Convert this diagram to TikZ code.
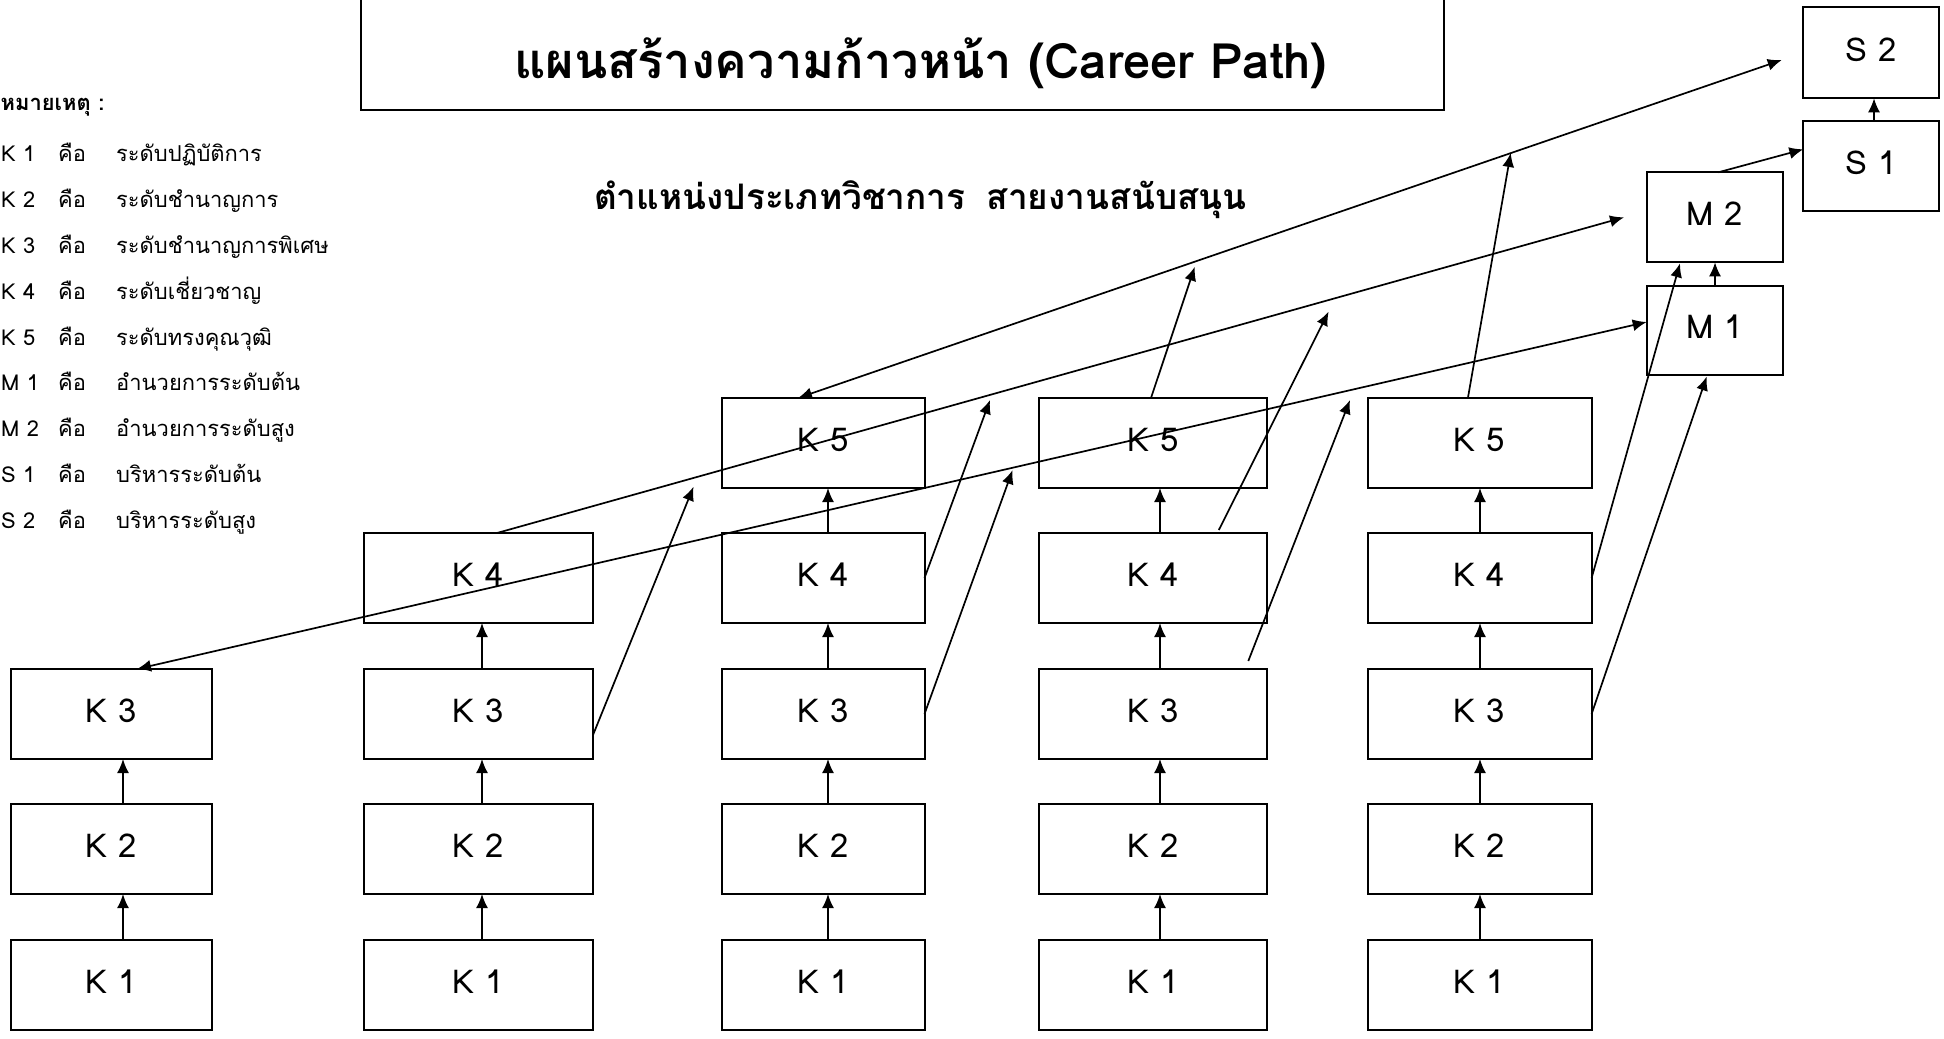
\documentclass[tikz,border=0pt]{standalone}
\usepackage{fontspec}
\setmainfont[Script=Thai]{Loma}
\newfontfamily\thai[Script=Thai]{Loma}
\usetikzlibrary{arrows.meta}
\begin{document}
\begin{tikzpicture}[x=1bp,y=-1bp,
  box/.style={draw,line width=2bp,inner sep=0pt,outer sep=0pt,minimum height=90bp,text height=26bp,text depth=9bp,font=\fontsize{33}{38}\selectfont},
  arr/.style={line width=1.7bp,-{Latex[length=14bp,width=12bp]}},
  darr/.style={line width=1.7bp,{Latex[length=14bp,width=12bp]}-{Latex[length=14bp,width=12bp]}},
  leg/.style={anchor=base west,inner sep=0pt,font=\fontsize{22}{27}\selectfont}]
\useasboundingbox (0,0) rectangle (1944,1038);
\clip (0,0) rectangle (1944,1038);
\fill[white] (0,0) rectangle (1944,1038);

% title
\node[draw,line width=2bp,inner sep=0pt,minimum width=1083bp,minimum height=120bp] (titlebox) at (902.5,50) {};
\node[anchor=base,inner sep=0pt,font=\fontsize{49}{55}\selectfont\bfseries] (title) at (920.6,78) {แผนสร้างความก้าวหน้า (Career Path)};
\node[anchor=base,inner sep=0pt,font=\fontsize{35.3}{41}\selectfont\bfseries] (subtitle) at (920.5,209) {ตำแหน่งประเภทวิชาการ\hspace{0.6em}สายงานสนับสนุน};

% legend
\node[leg,font=\fontsize{22}{27}\selectfont\bfseries] (legh) at (0.5,110) {หมายเหตุ :};
\foreach \lab/\deftxt [count=\i from 0] in {K 1/ระดับปฏิบัติการ, K 2/ระดับชำนาญการ, K 3/ระดับชำนาญการพิเศษ, K 4/ระดับเชี่ยวชาญ, K 5/ระดับทรงคุณวุฒิ, M 1/อำนวยการระดับต้น, M 2/อำนวยการระดับสูง, S 1/บริหารระดับต้น, S 2/บริหารระดับสูง}{
  \node[leg] (lga\i) at (1,161.7+45.85*\i) {\lab};
  \node[leg] (lgb\i) at (58,161.7+45.85*\i) {คือ};
  \node[leg] (lgc\i) at (116,161.7+45.85*\i) {\deftxt};
}

% K boxes
\node[box,minimum width=201bp] (k13) at (111.5,714) {K 3};
\node[box,minimum width=201bp] (k12) at (111.5,849) {K 2};
\node[box,minimum width=201bp] (k11) at (111.5,984.5) {K 1};

\node[box,minimum width=229bp] (k24) at (478.5,578) {K 4};
\node[box,minimum width=229bp] (k23) at (478.5,714) {K 3};
\node[box,minimum width=229bp] (k22) at (478.5,849) {K 2};
\node[box,minimum width=229bp] (k21) at (478.5,984.5) {K 1};

\node[box,minimum width=203bp] (k35) at (823,443) {K 5};
\node[box,minimum width=203bp] (k34) at (823,578) {K 4};
\node[box,minimum width=203bp] (k33) at (823,714) {K 3};
\node[box,minimum width=203bp] (k32) at (823,849) {K 2};
\node[box,minimum width=203bp] (k31) at (823,984.5) {K 1};

\node[box,minimum width=227.6bp] (k45) at (1152.8,443) {K 5};
\node[box,minimum width=227.6bp] (k44) at (1152.8,578) {K 4};
\node[box,minimum width=227.6bp] (k43) at (1152.8,714) {K 3};
\node[box,minimum width=227.6bp] (k42) at (1152.8,849) {K 2};
\node[box,minimum width=227.6bp] (k41) at (1152.8,984.5) {K 1};

\node[box,minimum width=224bp] (k55) at (1479.6,443) {K 5};
\node[box,minimum width=224bp] (k54) at (1479.6,578) {K 4};
\node[box,minimum width=224bp] (k53) at (1479.6,714) {K 3};
\node[box,minimum width=224bp] (k52) at (1479.6,849) {K 2};
\node[box,minimum width=224bp] (k51) at (1479.6,984.5) {K 1};

% M and S boxes
\node[box,minimum width=136bp] (m2) at (1714.7,217.3) {M 2};
\node[box,minimum width=136bp,minimum height=89bp] (m1) at (1714.7,330.3) {M 1};
\node[box,minimum width=135.7bp,minimum height=91bp] (s2) at (1871.2,52.8) {S 2};
\node[box,minimum width=135.7bp] (s1) at (1871.2,165.7) {S 1};

% vertical arrows
\draw[arr] ([xshift=11.5bp]k11.north) -- ([xshift=11.5bp]k12.south);
\draw[arr] ([xshift=11.5bp]k12.north) -- ([xshift=11.5bp]k13.south);
\draw[arr] ([xshift=3.5bp]k21.north) -- ([xshift=3.5bp]k22.south);
\draw[arr] ([xshift=3.5bp]k22.north) -- ([xshift=3.5bp]k23.south);
\draw[arr] ([xshift=3.5bp]k23.north) -- ([xshift=3.5bp]k24.south);
\foreach \c/\d in {3/5, 4/7.2, 5/0.4}{
  \draw[arr] ([xshift=\d bp]k\c1.north) -- ([xshift=\d bp]k\c2.south);
  \draw[arr] ([xshift=\d bp]k\c2.north) -- ([xshift=\d bp]k\c3.south);
  \draw[arr] ([xshift=\d bp]k\c3.north) -- ([xshift=\d bp]k\c4.south);
  \draw[arr] ([xshift=\d bp]k\c4.north) -- ([xshift=\d bp]k\c5.south);
}
\draw[arr] ([xshift=0.3bp]m1.north) -- ([xshift=0.3bp]m2.south);
\draw[arr] ([xshift=2.8bp]s1.north) -- ([xshift=2.8bp]s2.south);

% diagonal connectors
\draw[darr] ([xshift=25.5bp]k13.north) -- ([yshift=8.3bp]m1.west);
\draw[darr] ([xshift=-25bp]k35.north) -- ([xshift=-21.6bp,yshift=-7.2bp]s2.west);
\draw[arr] ([xshift=18.5bp]k24.north) -- ([xshift=-22.7bp]m2.west);
\draw[arr] ([yshift=-21bp]k23.east) -- ([xshift=-28bp,yshift=1.3bp]k35.south west);
\draw[arr] (k34.east) -- ([xshift=-49bp,yshift=-2bp]k45.north west);
\draw[arr] (k33.east) -- ([xshift=-26.4bp,yshift=-27bp]k45.west);
\draw[arr] ([xshift=-1.8bp]k45.north) -- ([xshift=42bp,yshift=131.3bp]k45.north);
\draw[arr] ([xshift=66bp,yshift=3bp]k44.north) -- ([xshift=62bp,yshift=86.3bp]k45.north east);
\draw[arr] ([xshift=-18.3bp,yshift=8bp]k43.north east) -- ([xshift=-17.6bp,yshift=-2bp]k55.north west);
\draw[arr] ([xshift=-11.7bp]k55.north) -- ([xshift=31.1bp,yshift=245bp]k55.north);
\draw[arr] (k54.east) -- ([xshift=-34.7bp,yshift=-1bp]m2.south);
\draw[arr] (k53.east) -- ([xshift=-8bp,yshift=-1.7bp]m1.south);
\draw[arr] ([xshift=3.6bp]m2.north) -- ([yshift=16.4bp]s1.west);
\end{tikzpicture}
\end{document}
